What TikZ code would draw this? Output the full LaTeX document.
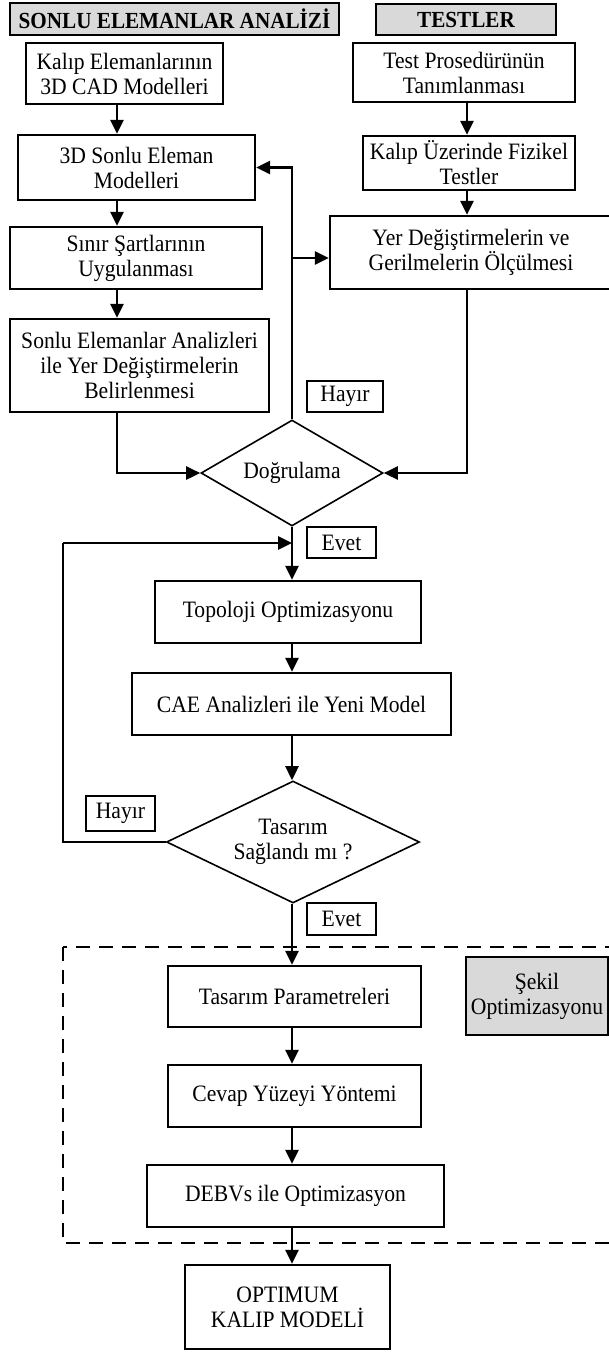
\documentclass[tikz,border=0pt]{standalone}
\usepackage{fontspec}
\setmainfont[FakeStretch=0.92]{Liberation Serif}
\usetikzlibrary{arrows.meta,shapes.geometric}

\begin{document}
\begin{tikzpicture}[x=1pt, y=-1pt,
  box/.style={draw, line width=2.2pt, align=center, inner sep=0pt, font=\fontsize{23.5}{25}\selectfont},
  head/.style={box, fill=gray!30, font=\fontsize{23}{25}\selectfont\bfseries},
  tag/.style={draw, line width=2pt, inner sep=0pt, font=\fontsize{23.5}{25}\selectfont},
  karar/.style={draw, diamond, aspect=2, line width=1.6pt, align=center, inner sep=0pt, font=\fontsize{23.5}{25}\selectfont},
  ok/.style={line width=2.6pt, -{Triangle[length=14pt, width=13pt]}},
  hat/.style={line width=2.6pt}]
\useasboundingbox (0,0) rectangle (609,1352);
\coordinate (lx) at (117,0);
\coordinate (rx) at (467,0);
\coordinate (spine) at (292,0);
\coordinate (kol) at (292,258);
\coordinate (geri) at (63,543);
\coordinate (donus) at (292,543);
%Headers
\node[head, minimum width=329, minimum height=32] (fea) at (174.5,19) {SONLU ELEMANLAR ANALİZİ};
\node[head, minimum width=180, minimum height=31] (test) at (466,19.5) {TESTLER};
%Left column
\node[box, minimum width=197, minimum height=61] (cad) at (124.5,73.5) {Kalıp Elemanlarının\\3D CAD Modelleri};
\node[box, minimum width=237, minimum height=65] (fem) at (136.5,167.5) {3D Sonlu Eleman\\Modelleri};
\node[box, minimum width=252, minimum height=62] (sinir) at (136,258) {Sınır Şartlarının\\Uygulanması};
\node[box, minimum width=259, minimum height=93] (analiz) at (139.5,365.5) {Sonlu Elemanlar Analizleri\\ile Yer Değiştirmelerin\\Belirlenmesi};
%Right column
\node[box, minimum width=222, minimum height=59] (prosedur) at (464,72.5) {Test Prosedürünün\\Tanımlanması};
\node[box, minimum width=212, minimum height=54] (fizik) at (469,163) {Kalıp Üzerinde Fizikel\\Testler};
\node[box, minimum width=282, minimum height=73] (olcum) at (471,252.5) {Yer Değiştirmelerin ve\\Gerilmelerin Ölçülmesi};
%Decisions
\node[karar, minimum width=182, minimum height=106] (dogrulama) at (292,473) {Doğrulama};
\node[tag, minimum width=76, minimum height=31] (hayir1) at (345,396.5) {Hayır};
\node[tag, minimum width=69, minimum height=31] (evet1) at (341.5,542.5) {Evet};
\node[box, minimum width=266, minimum height=62] (topo) at (288,612) {Topoloji Optimizasyonu};
\node[box, minimum width=319, minimum height=62] (cae) at (291.5,704) {CAE Analizleri ile Yeni Model};
\node[karar, minimum width=253, minimum height=122] (saglandi) at (293,842) {Tasarım\\Sağlandı mı ?};
\node[tag, minimum width=69, minimum height=35] (hayir2) at (120.5,813.5) {Hayır};
\node[tag, minimum width=69, minimum height=32] (evet2) at (341.5,919) {Evet};
%Shape optimisation
\draw[line width=2pt, dash pattern=on 14pt off 9pt] (63,947) rectangle (620,1243);
\node[box, fill=gray!30, minimum width=142, minimum height=78] (sekil) at (537,996) {Şekil\\Optimizasyonu};
\node[box, minimum width=253, minimum height=61] (params) at (294.5,996.5) {Tasarım Parametreleri};
\node[box, minimum width=253, minimum height=62] (cevap) at (294.5,1096) {Cevap Yüzeyi Yöntemi};
\node[box, minimum width=297, minimum height=62] (debvs) at (295.5,1196) {DEBVs ile Optimizasyon};
\node[box, minimum width=205, minimum height=84] (optimum) at (287.5,1307) {OPTIMUM\\KALIP MODELİ};
%Arrows
\draw[ok] (cad.south -| lx) -- (fem.north -| lx);
\draw[ok] (fem.south -| lx) -- (sinir.north -| lx);
\draw[ok] (sinir.south -| lx) -- (analiz.north -| lx);
\draw[ok] (analiz.south -| lx) |- (dogrulama.west);
\draw[ok] (prosedur.south -| rx) -- (fizik.north -| rx);
\draw[ok] (fizik.south -| rx) -- (olcum.north -| rx);
\draw[ok] (olcum.south -| rx) |- (dogrulama.east);
\draw[ok] (dogrulama.north) |- (fem.east);
\draw[ok] (kol) -- (kol -| olcum.west);
\draw[ok] (dogrulama.south) -- (dogrulama.south |- topo.north);
\draw[ok] (topo.south -| spine) -- (cae.north -| spine);
\draw[ok] (cae.south -| spine) -- (saglandi.north -| spine);
\draw[hat] (saglandi.west) -| (geri);
\draw[ok] (geri) -- (donus);
\draw[ok] (saglandi.south -| spine) -- (params.north -| spine);
\draw[ok] (params.south -| spine) -- (cevap.north -| spine);
\draw[ok] (cevap.south -| spine) -- (debvs.north -| spine);
\draw[ok] (debvs.south -| spine) -- (optimum.north -| spine);
\end{tikzpicture}
\end{document}
